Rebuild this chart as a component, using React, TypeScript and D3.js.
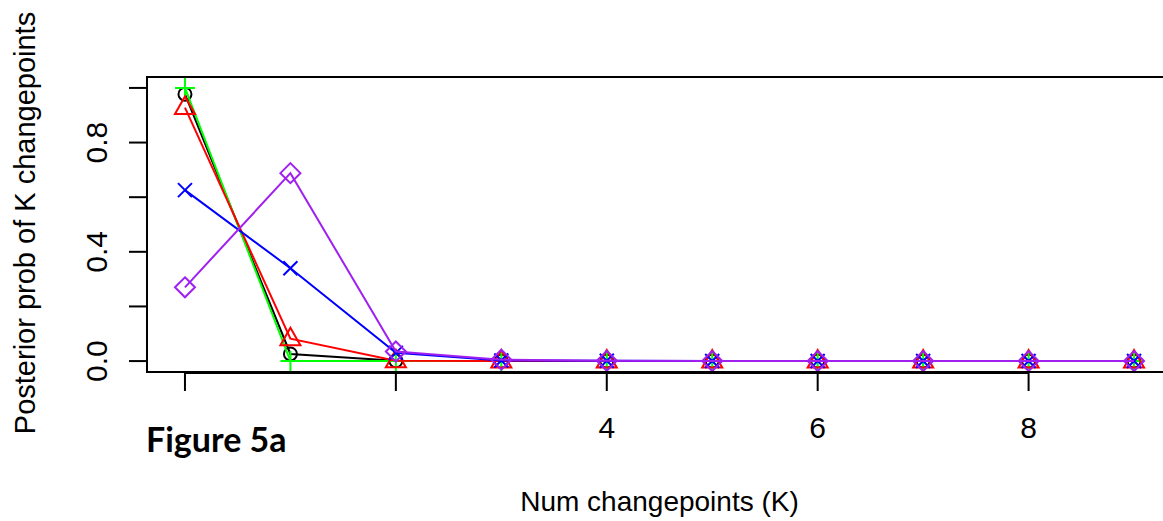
import { useEffect, useRef } from 'react'
import * as d3 from 'd3'

const W = 1163, H = 521
const K = [0, 1, 2, 3, 4, 5, 6, 7, 8, 9]
const blackVals = [0.977, 0.026, 0.001, 0, 0, 0, 0, 0, 0, 0]
const greenVals = [1.0, 0.0, 0, 0, 0, 0, 0, 0, 0, 0]
const redVals = [0.928, 0.082, 0.001, 0, 0, 0, 0, 0, 0, 0]
const blueVals = [0.626, 0.34, 0.03, 0.002, 0.001, 0, 0, 0, 0, 0]
const purpleVals = [0.27, 0.688, 0.035, 0.005, 0.001, 0, 0, 0, 0, 0]
const xTicks = [0, 2, 4, 6, 8]
// 0 and 2 are hidden under the "Figure 5a" label in the original
const xLabels = [4, 6, 8]
const yTicks = [0, 0.2, 0.4, 0.6, 0.8, 1.0]
const yLabels = [0, 0.4, 0.8]

const series = [
  { vals: blackVals, color: '#000000', shape: 'circle' },
  { vals: greenVals, color: '#00ff00', shape: 'plus' },
  { vals: redVals, color: '#ff0000', shape: 'triangle' },
  { vals: blueVals, color: '#0000ff', shape: 'x' },
  { vals: purpleVals, color: '#a020f0', shape: 'diamond' },
]

function markerPath(shape: string) {
  if (shape === 'circle') return 'M6.5,0A6.5,6.5 0 1,1 -6.5,0A6.5,6.5 0 1,1 6.5,0Z'
  if (shape === 'plus') return 'M-10,0H10M0,-10V10'
  if (shape === 'triangle') return 'M0,-11L10,6.5L-10,6.5Z'
  if (shape === 'x') return 'M-7,-7L7,7M-7,7L7,-7'
  return 'M0,-10L10,0L0,10L-10,0Z'
}

export default function App() {
  const ref = useRef<SVGSVGElement>(null)

  useEffect(() => {
    if (!ref.current) return
    const svg = d3.select(ref.current)
    svg.selectAll('*').remove()

    const x = d3.scaleLinear().domain([-0.36, 9.36]).range([147, 1172])
    const y = d3.scaleLinear().domain([-0.04, 1.04]).range([372, 77])
    const font = '"Liberation Sans", Arial, sans-serif'

    svg.append('rect').attr('width', W).attr('height', H).attr('fill', '#fff')

    // series lines + markers
    const line = d3.line<number>().x((_, i) => x(K[i])).y(d => y(d))
    series.forEach(s => {
      svg.append('path').attr('d', line(s.vals))
        .attr('fill', 'none').attr('stroke', s.color).attr('stroke-width', 2)
      svg.append('g').selectAll('path').data(s.vals).join('path')
        .attr('transform', (d, i) => `translate(${x(K[i])},${y(d)})`)
        .attr('d', markerPath(s.shape))
        .attr('fill', 'none').attr('stroke', s.color).attr('stroke-width', 2)
    })

    // box
    svg.append('rect').attr('x', x.range()[0]).attr('y', y.range()[1])
      .attr('width', x.range()[1] - x.range()[0]).attr('height', y.range()[0] - y.range()[1])
      .attr('fill', 'none').attr('stroke', '#000').attr('stroke-width', 2)

    // x axis
    const bottom = y.range()[0]
    svg.append('line').attr('x1', x(0)).attr('x2', x(8)).attr('y1', bottom + 1).attr('y2', bottom + 1)
      .attr('stroke', '#000').attr('stroke-width', 2)
    xTicks.forEach(t => {
      svg.append('line').attr('x1', x(t)).attr('x2', x(t)).attr('y1', bottom).attr('y2', bottom + 19)
        .attr('stroke', '#000').attr('stroke-width', 2)
    })
    xLabels.forEach(t => {
      svg.append('text').attr('x', x(t)).attr('y', 438).attr('text-anchor', 'middle')
        .attr('font-family', font).attr('font-size', 30).attr('fill', '#000').text(t)
    })

    // y axis
    const left = x.range()[0]
    yTicks.forEach(t => {
      svg.append('line').attr('x1', left - 18).attr('x2', left).attr('y1', y(t)).attr('y2', y(t))
        .attr('stroke', '#000').attr('stroke-width', 2)
    })
    yLabels.forEach(t => {
      svg.append('text').attr('transform', `translate(107,${y(t)}) rotate(-90)`)
        .attr('text-anchor', 'middle').attr('font-family', font).attr('font-size', 30)
        .attr('fill', '#000').text(d3.format('.1f')(t))
    })

    // titles
    svg.append('text').attr('x', (x.range()[0] + x.range()[1]) / 2).attr('y', 511)
      .attr('text-anchor', 'middle').attr('font-family', font).attr('font-size', 28)
      .attr('fill', '#000').text('Num changepoints (K)')
    svg.append('text').attr('transform', `translate(35,${223}) rotate(-90)`)
      .attr('text-anchor', 'middle').attr('font-family', font).attr('font-size', 29)
      .attr('fill', '#000').text('Posterior prob of K changepoints')

    // figure label
    svg.append('text').attr('x', 146).attr('y', 452)
      .attr('font-family', 'Lato, "Open Sans", sans-serif').attr('font-weight', 700).attr('font-size', 34)
      .attr('fill', '#000').text('Figure 5a')
  }, [])

  return <svg ref={ref} width={W} height={H} style={{ position: 'absolute', left: 0, top: 0 }} />
}
